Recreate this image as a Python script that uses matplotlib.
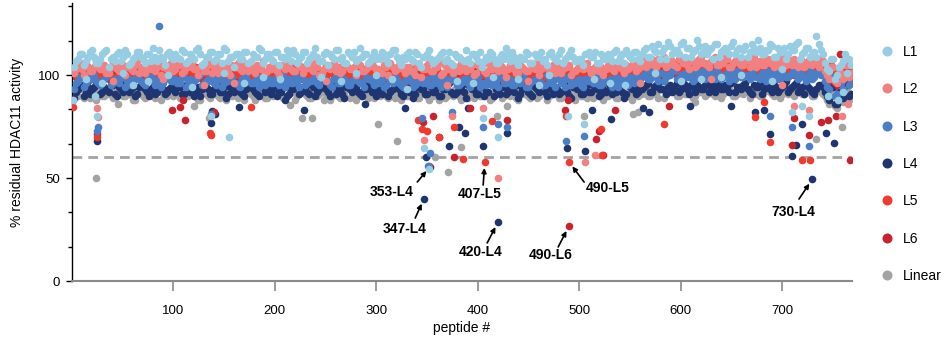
import numpy as np
import matplotlib
matplotlib.use("Agg")
import matplotlib.pyplot as plt
from matplotlib.ticker import MultipleLocator, FixedLocator
from matplotlib.lines import Line2D

plt.rcParams['font.family'] = ['Liberation Sans', 'DejaVu Sans']

# ---------------- data ----------------
series_names = ["L1", "L2", "L3", "L4", "L5", "L6", "Linear"]
series_colors = ["#96CDE3", "#F28080", "#4A7EC6", "#1E3572", "#EF3A2D", "#C9222C", "#A3A3A3"]

# two interleaved runs of peptides per series: run A = 2, 6, 10, ...; run B = 4, 8, 12, ...
band_a_first = 2
band_b_first = 4
band_step = 4

L1_band_a = [104,108,110,107,111,109,106,110,112,108,107,111,109,110,106,109,111,108,110,107,109,112,108,110,109,
           110,108,111,107,109,112,110,106,109,111,108,110,113,107,109,110,108,111,106,110,109,112,108,110,107,111,109,108,110,112,
           106,109,111,108,110,109,107,111,110,108,112,109,106,110,111,108,109,110,107,111,
           109,111,108,110,112,107,109,110,108,111,106,109,110,108,107,109,111,108,106,110,109,107,108,110,109,111,107,108,110,106,
           109,108,110,111,107,109,108,110,106,109,111,108,110,109,107,112,108,110,109,107,108,110,111,109,106,110,108,109,111,107,
           110,112,109,111,108,
           110,113,109,112,115,111,108,114,112,110,116,113,109,112,114,111,110,113,115,109,112,111,114,110,113,112,109,115,111,113,
           110,112,114,109,111,113,110,112,115,108,111,113,110,109,112,
           106,102,108,100,105,110,108]
L1_band_b = [107,110,105,109,112,106,108,111,104,109,110,107,112,105,108,111,109,106,110,113,107,109,105,111,108,
           109,112,106,110,108,113,105,109,111,107,110,106,112,109,104,110,108,111,107,109,113,106,110,108,111,105,109,112,107,110,
           108,111,106,109,113,107,110,105,109,112,108,106,111,109,107,113,110,106,109,108,
           108,110,106,112,109,105,108,111,107,110,104,109,112,106,108,110,107,111,105,109,108,112,106,110,107,104,109,111,108,106,
           110,113,107,109,105,108,111,106,110,109,107,105,111,108,110,106,109,112,107,108,105,110,109,111,106,108,110,107,112,109,
           106,110,108,111,107,
           112,109,114,111,108,113,116,110,112,115,109,113,111,117,110,114,112,108,115,111,113,110,116,112,109,114,111,113,117,110,
           112,115,109,113,111,108,114,112,116,110,113,109,111,115,110,
           103,108,98,104,107,101,105]
L2_band_a = [101,105,103,106,102,104,105,103,101,104,106,102,105,104,103,105,101,104,106,103,102,105,104,103,106,
           103,105,102,104,106,103,104,102,105,101,104,106,103,102,105,104,103,106,102,104,105,103,101,104,106,102,105,103,104,102,
           106,104,103,105,102,104,101,105,103,106,104,102,105,103,104,106,102,103,105,104,
           103,101,104,106,102,105,103,104,102,100,104,103,105,102,104,106,101,103,105,104,102,104,103,105,101,104,102,106,103,104,
           105,102,103,104,101,105,103,102,104,106,103,104,102,105,103,101,104,105,102,103,106,104,103,102,105,104,103,105,102,104,
           103,105,104,106,103,
           106,104,107,105,108,106,104,107,105,108,106,105,107,104,108,106,105,107,109,105,106,108,104,107,106,105,108,106,104,107,
           105,108,106,107,104,106,108,105,107,106,104,107,105,106,108,
           102,98,104,96,101,105,99]
L2_band_b = [103,106,100,104,102,107,103,105,101,106,103,104,100,105,102,107,104,101,103,106,104,100,105,103,102,
           105,101,104,107,103,100,105,102,106,104,101,103,105,100,104,106,102,105,103,101,104,107,102,103,105,100,104,106,103,102,
           105,101,104,103,106,100,103,105,104,102,101,106,104,103,100,105,102,104,106,103,
           102,105,100,104,103,106,101,104,102,105,99,103,106,102,104,100,105,103,101,104,106,102,103,100,105,104,101,103,106,102,
           104,99,105,103,101,104,102,106,103,100,105,104,102,101,106,103,104,100,102,105,103,106,101,104,102,100,105,103,104,106,
           101,103,105,102,104,
           107,105,108,104,106,109,105,107,104,108,106,103,107,105,109,106,104,108,105,107,110,104,106,108,105,107,104,109,106,105,
           108,106,104,107,109,105,106,108,104,107,105,109,106,104,107,
           100,104,97,103,98,105,101]
L3_band_a = [93,97,99,96,98,100,96,97,99,95,98,96,99,97,95,98,100,96,97,99,95,98,96,99,97,
           98,96,99,97,95,98,100,96,97,99,95,98,96,97,99,96,94,98,97,96,99,97,95,98,96,99,97,94,98,96,
           97,99,95,97,98,96,99,97,95,98,96,99,97,95,98,97,96,99,98,95,
           96,98,95,97,99,96,94,98,97,95,99,96,98,95,97,99,96,94,98,97,95,98,96,99,97,94,96,98,95,97,
           99,96,98,95,97,96,99,94,97,98,96,95,98,97,99,96,94,98,96,97,95,98,97,96,99,95,97,98,96,94,
           98,97,99,96,98,
           99,101,98,100,97,101,99,100,102,98,100,99,101,98,100,102,99,101,98,100,99,101,100,98,102,99,100,101,99,98,
           100,102,99,101,98,100,99,101,100,102,99,100,98,101,100,
           97,93,99,91,96,100,95]
L3_band_b = [96,99,94,98,100,97,95,98,101,96,97,99,94,98,96,100,97,95,99,98,96,94,98,100,97,
           96,99,94,98,97,100,95,97,99,96,98,94,97,99,96,95,98,100,96,97,94,99,97,96,98,95,100,97,96,99,
           94,98,96,97,100,95,98,97,94,99,96,98,95,97,100,96,94,98,97,99,
           97,94,99,96,98,95,97,100,94,96,98,97,95,99,96,94,98,97,100,95,96,98,94,97,99,96,95,98,97,94,
           100,96,98,95,97,99,94,96,98,97,95,100,96,94,98,97,99,95,96,98,94,97,100,96,95,98,97,94,99,96,
           98,95,97,100,96,
           100,98,102,99,101,97,100,103,98,100,101,99,97,102,100,98,101,99,103,98,100,97,101,102,99,100,98,103,99,101,
           97,100,102,98,101,99,100,103,98,100,97,102,99,101,100,
           94,98,90,97,93,99,96]
L4_band_a = [89,93,95,92,91,94,96,92,93,95,91,94,92,95,93,90,94,96,92,93,91,95,93,92,94,
           92,94,91,93,95,92,90,94,93,91,95,92,94,91,93,95,92,90,94,93,91,94,92,95,93,90,92,94,91,93,
           95,92,93,91,94,92,95,93,90,94,92,91,94,93,95,92,90,93,94,92,
           93,91,94,92,95,93,90,94,92,91,95,93,91,94,92,90,93,95,92,91,94,92,95,93,91,94,90,92,95,93,
           91,94,92,93,95,91,94,92,90,93,95,92,94,91,93,92,95,90,94,93,91,94,92,95,93,91,92,94,93,95,
           92,91,94,93,92,
           93,95,92,94,96,93,91,95,94,92,96,93,95,92,94,93,96,94,92,95,93,94,96,92,94,95,93,91,94,96,
           93,95,92,94,93,95,92,94,96,93,91,94,92,93,95,
           92,88,94,86,91,95,90]
L4_band_b = [92,95,90,94,93,96,91,94,92,95,90,93,96,92,94,91,95,93,90,94,92,96,91,93,95,
           94,91,95,92,90,94,93,96,91,93,95,92,89,94,92,95,91,93,96,92,90,94,93,91,95,92,94,90,93,96,
           91,94,92,95,90,93,94,92,96,91,93,89,95,92,94,91,93,96,92,90,
           92,95,90,93,94,91,96,92,89,94,93,91,95,92,94,90,93,96,91,92,94,89,95,93,91,94,92,96,90,93,
           95,91,94,92,89,93,96,91,94,92,95,90,93,94,91,96,92,89,94,93,91,95,92,94,90,93,96,91,92,94,
           89,95,93,91,94,
           94,96,92,95,93,97,94,92,96,93,95,91,94,97,93,95,92,96,94,93,95,92,97,94,93,96,92,95,94,91,
           96,93,95,92,94,97,93,95,92,94,96,93,91,95,94,
           90,94,86,92,89,95,91]
L5_band_a = [102,100,103,101,99,102,104,100,101,103,99,102,100,103,101,104,100,102,99,103,101,100,102,104,101,
           101,103,100,102,99,104,101,102,100,103,102,99,101,103,100,102,104,101,99,102,100,103,101,102,99,101,103,100,102,104,
           101,99,102,100,103,101,102,99,103,100,102,101,104,100,101,103,99,102,100,101,
           100,102,99,101,103,100,102,98,101,103,99,102,100,101,103,99,100,102,101,98,102,100,103,101,99,102,100,101,103,100,
           99,101,102,100,103,101,98,102,100,101,103,100,102,99,101,100,102,103,99,101,100,102,101,103,99,100,102,101,100,103,
           101,99,102,100,101,
           103,105,102,104,101,105,103,104,106,102,104,103,105,102,104,106,103,105,102,104,103,105,104,102,106,103,104,105,103,102,
           104,106,103,105,102,104,103,105,104,106,103,104,102,105,104,
           104,100,103,98,102,105,101]
L5_band_b = [100,103,101,104,99,102,100,103,102,99,104,101,103,100,102,99,103,101,104,100,102,103,99,101,102,
           103,100,102,104,101,99,103,101,102,100,104,101,99,102,103,100,101,104,102,99,103,101,100,102,104,99,101,103,100,102,
           101,104,99,102,103,100,102,101,103,99,104,100,102,101,103,100,99,102,104,101,
           101,103,99,102,100,98,102,101,103,99,100,102,98,101,103,100,99,102,101,103,98,100,102,101,99,103,100,102,98,101,
           102,100,103,99,101,100,102,98,103,101,99,102,100,101,103,98,100,102,101,99,103,100,101,102,98,100,103,101,99,102,
           100,101,103,99,102,
           104,102,106,103,105,101,104,106,102,105,103,104,101,106,104,102,105,103,106,101,104,105,102,103,106,104,101,105,103,102,
           106,104,102,105,103,107,104,102,105,103,106,104,102,105,103,
           101,105,99,103,100,104,102]
L6_band_a = [101,99,102,100,98,101,103,99,100,102,98,101,99,102,100,103,99,101,98,102,100,99,101,103,100,
           100,102,99,101,98,103,100,101,99,102,101,98,100,102,99,101,103,100,98,101,99,102,100,101,98,100,102,99,101,103,
           100,98,101,99,102,100,101,98,102,99,101,100,103,99,100,102,98,101,99,100,
           99,101,98,100,102,99,101,97,100,102,98,101,99,100,102,98,99,101,100,97,101,99,102,100,98,101,99,100,102,99,
           98,100,101,99,102,100,97,101,99,100,102,99,101,98,100,99,101,102,98,100,99,101,100,102,98,99,101,100,99,102,
           100,98,101,99,100,
           101,103,100,102,99,103,101,102,104,100,102,101,103,100,102,104,101,103,100,102,101,103,102,100,104,101,102,103,101,100,
           102,104,101,103,100,102,101,103,102,104,101,102,100,103,102,
           102,97,100,95,99,103,98]
L6_band_b = [99,102,100,97,101,99,102,100,98,101,103,99,100,102,98,101,99,102,100,97,101,100,102,99,101,
           102,99,101,97,100,102,98,101,100,103,99,101,98,102,100,99,101,103,98,100,102,99,101,100,97,102,100,99,101,103,
           98,100,101,99,102,100,98,101,103,99,100,102,98,101,99,100,103,101,98,100,
           100,98,102,99,101,97,100,102,98,101,99,100,102,97,101,99,100,98,102,101,99,97,100,102,98,101,100,99,102,98,
           100,101,97,99,102,100,98,101,99,102,100,97,101,99,100,98,102,101,99,100,97,102,100,98,101,99,100,102,98,101,
           99,97,100,102,99,
           102,100,104,101,103,99,102,104,100,103,101,102,99,104,102,100,103,101,104,99,102,103,100,101,104,102,99,103,101,100,
           104,102,100,103,101,105,102,100,103,101,104,102,100,103,101,
           99,103,96,101,98,102,100]
Linear_band_a = [92,90,93,91,89,92,94,90,91,93,89,92,90,93,91,88,92,90,93,91,89,92,91,90,93,
               91,89,92,90,93,91,88,92,90,91,93,89,91,92,90,93,91,88,92,90,91,93,89,92,90,91,93,89,91,92,
               90,93,91,89,92,90,93,91,88,92,90,91,93,89,92,91,90,93,91,89,
               91,93,90,92,89,91,93,90,92,91,89,92,90,93,91,88,92,90,91,93,90,92,89,91,93,90,92,91,89,92,
               93,90,91,92,89,93,91,90,92,89,91,93,90,92,91,89,93,90,92,91,90,92,93,89,91,92,90,93,91,89,
               92,90,91,93,90,
               91,93,90,92,89,93,91,92,94,90,92,91,93,90,92,94,91,93,90,92,91,93,92,90,94,91,92,93,91,90,
               92,94,91,93,90,92,91,93,92,94,91,92,90,93,92,
               90,86,92,84,89,93,88]
Linear_band_b = [90,93,89,91,92,88,93,90,91,89,92,94,90,91,88,93,91,89,92,90,93,88,91,92,90,
               92,89,91,93,90,88,92,91,89,93,90,92,88,91,93,89,90,92,91,88,93,90,89,92,91,93,89,90,92,88,
               91,93,90,89,92,91,88,93,90,92,89,91,93,90,88,92,91,89,93,90,
               90,92,89,93,91,88,92,90,93,89,91,92,88,90,93,91,89,92,90,93,88,91,92,89,93,90,91,88,92,93,
               89,91,90,92,88,93,91,89,92,90,93,88,91,92,89,90,93,91,88,92,90,89,93,91,92,88,90,93,89,91,
               92,90,88,93,91,
               92,90,94,91,93,89,92,94,90,93,91,92,89,94,92,90,93,91,94,89,92,93,90,91,94,92,89,93,91,90,
               94,92,90,93,91,95,92,90,93,91,94,92,90,93,91,
               88,92,85,90,87,91,89]

# individual low / off-band peptides (peptide #, % residual activity)
L1_hit_pep = [1, 14, 23, 25, 30, 50, 60, 75, 95, 118, 137, 150, 155, 170, 188, 205, 245, 265, 280, 300,
              315, 330, 347, 352, 380, 395, 405, 415, 420, 440, 460, 470, 489, 505, 515, 530, 545, 575,
              600, 620, 640, 660, 690, 700, 710, 720, 727, 734, 745, 755, 760]
L1_hit_val = [88, 98, 90, 80, 96, 101, 95, 97, 100, 94, 80, 101, 70, 96, 99, 98, 99, 97, 101, 100,
              98, 93, 64.5, 54.5, 97, 96, 79, 99, 70, 98, 95, 100, 80, 76, 98, 96, 95, 101,
              97, 98, 99, 100, 97, 103, 82, 85, 80, 119, 90, 88, 92]
L2_hit_pep = [25, 26, 40, 90, 130, 160, 250, 347, 370, 375, 405, 420, 450, 506, 516, 560, 630, 700,
              712, 727, 759, 765]
L2_hit_val = [84, 79.6, 97, 98, 95, 96, 97, 68.4, 95, 80, 84, 50, 97, 58, 61, 96, 98, 95,
              85, 83, 80, 86]
L3_hit_pep = [1, 25, 26, 86, 137, 345, 351, 353, 375, 405, 420, 429, 487, 505, 688, 710, 727]
L3_hit_val = [88, 73, 75, 124, 81, 79, 56, 62, 82, 75, 76, 75, 68, 70.6, 80, 75, 65.5]
L4_hit_pep = [25, 137, 138, 141, 165, 210, 229, 289, 328, 347, 349, 353, 362, 372, 382, 387, 390, 405, 420,
              429, 488, 506, 513, 531, 563, 569, 609, 650, 673, 682, 688, 710, 714, 720, 730, 743, 751]
L4_hit_val = [68, 76.5, 82.7, 81, 84.5, 88, 83, 86, 84, 40, 60.2, 55.5, 70, 65.6, 75, 72, 84, 65.6, 28.6,
              72, 64.6, 63, 83, 78.5, 84, 82, 85, 85, 82, 83, 71.4, 60.6, 66, 76, 49.5, 72, 67]
L5_hit_pep = [1, 25, 136, 137, 176, 341, 345, 350, 352, 362, 377, 385, 407, 414, 487, 490, 522, 523,
              584, 673, 682, 688, 720, 728]
L5_hit_val = [84.5, 70, 72, 71, 84.5, 78, 74, 73, 56, 70, 75, 59.4, 57.6, 77.5, 80, 57.8, 74, 61,
              76, 79.5, 87, 67.7, 59, 58.6]
L6_hit_pep = [25, 99, 106, 109, 111, 140, 346, 356, 377, 392, 429, 486, 489, 490, 517, 520, 524, 535,
              589, 710, 712, 727, 738, 745, 753, 757, 767]
L6_hit_val = [71.5, 83, 84.5, 88, 78, 82, 77, 80, 60, 84, 78, 83, 88, 26.7, 69, 73, 61, 83,
              85, 66, 79, 71, 77, 78, 80, 110, 59]
Linear_hit_pep = [24, 45, 120, 135, 215, 227, 237, 302, 320, 358, 371, 384, 419, 429, 505, 553, 558,
                  614, 698, 734, 759, 765]
Linear_hit_val = [50, 86, 85, 79, 85.5, 79, 79, 76, 68, 60, 53, 65, 80, 85, 80, 81, 82,
                  87, 89, 69, 75, 92]

bands = {"L1": (L1_band_a, L1_band_b), "L2": (L2_band_a, L2_band_b), "L3": (L3_band_a, L3_band_b),
         "L4": (L4_band_a, L4_band_b), "L5": (L5_band_a, L5_band_b), "L6": (L6_band_a, L6_band_b),
         "Linear": (Linear_band_a, Linear_band_b)}
hits = {"L1": (L1_hit_pep, L1_hit_val), "L2": (L2_hit_pep, L2_hit_val),
        "L3": (L3_hit_pep, L3_hit_val), "L4": (L4_hit_pep, L4_hit_val),
        "L5": (L5_hit_pep, L5_hit_val), "L6": (L6_hit_pep, L6_hit_val),
        "Linear": (Linear_hit_pep, Linear_hit_val)}

threshold = 60
labels_text = ["353-L4", "347-L4", "407-L5", "420-L4", "490-L6", "490-L5", "730-L4"]
labels_pep = [353, 347, 407, 420, 490, 490, 730]
labels_val = [55.5, 40, 57.6, 28.6, 26.7, 57.8, 49.5]

x_ticks = [100, 200, 300, 400, 500, 600, 700]
y_ticks = [0, 50, 100]

# ---------------- figure ----------------
fig = plt.figure(figsize=(9.52, 3.41), dpi=100)
ax = fig.add_axes([72 / 952, 60 / 341, 780 / 952, 278 / 341])

ax.axhline(threshold, color="#A3A3A3", lw=2.0, dashes=(3.5, 2.2), zorder=1)

draw_order = ["Linear", "L4", "L6", "L5", "L3", "L2", "L1"]
cmap = dict(zip(series_names, series_colors))
for k, name in enumerate(draw_order):
    ba, bb = bands[name]
    xa = band_a_first + band_step * np.arange(len(ba))
    xb = band_b_first + band_step * np.arange(len(bb))
    hp, hv = hits[name]
    x = np.concatenate([xa, xb, np.asarray(hp, float)])
    y = np.concatenate([np.asarray(ba, float), np.asarray(bb, float), np.asarray(hv, float)])
    ax.scatter(x, y, s=30, color=cmap[name], linewidths=0, zorder=2 + k)

# annotations (text offset and arrow start in points relative to the point)
text_off = [(-28, -18.2), (-14.2, -21.9), (-4, -22.8), (-12.8, -21.5), (-12.9, -20.9), (28.2, -18.8), (-14, -23.8)]
arrow_off = [(-9.2, -11), (-6.3, -14), (-1.2, -16.3), (-7.8, -15), (-7.8, -15.1), (10.9, -14.5), (-9.7, -14.4)]
for t, p, v, to, ao in zip(labels_text, labels_pep, labels_val, text_off, arrow_off):
    ax.annotate(t, xy=(p, v), xytext=to, textcoords="offset points",
                ha="center", va="center", fontsize=10, fontweight="bold", zorder=20)
    ax.annotate("", xy=(p, v), xytext=ao, textcoords="offset points",
                arrowprops=dict(arrowstyle="-|>", color="black", lw=1.2,
                                mutation_scale=7, shrinkA=0, shrinkB=4), zorder=20)

ax.set_xlim(0, 769)
ax.set_ylim(0, 135)
ax.xaxis.set_major_locator(FixedLocator(x_ticks))
ax.yaxis.set_major_locator(FixedLocator(y_ticks))
ax.yaxis.set_minor_locator(MultipleLocator(50 / 3))

for s in ["top", "right"]:
    ax.spines[s].set_visible(False)
ax.spines["left"].set_color("black")
ax.spines["left"].set_linewidth(1.0)
ax.spines["bottom"].set_color("#8A8A8A")
ax.spines["bottom"].set_linewidth(1.5)

ax.tick_params(axis="x", which="major", length=7, width=1.2, color="#8A8A8A",
               labelcolor="black", labelsize=9.5, pad=10)
ax.tick_params(axis="y", which="major", length=4, width=1.0, color="black",
               labelsize=9.5, pad=4.5)
ax.tick_params(axis="y", which="minor", length=3, width=1.0, color="black")

ax.set_xlabel("peptide #", fontsize=10, labelpad=3)
ax.set_ylabel("% residual HDAC11 activity", fontsize=10, labelpad=10)

handles = [Line2D([0], [0], marker="o", linestyle="none", markersize=7.2,
                  markerfacecolor=c, markeredgewidth=0) for c in series_colors]
fig.legend(handles, series_names, loc="upper left", bbox_to_anchor=(880 / 952, 1 - 45 / 341),
           frameon=False, fontsize=10, handlelength=1.0, handletextpad=0.65,
           labelspacing=1.68, borderpad=0, borderaxespad=0)

fig.savefig("out.png", dpi=100)
